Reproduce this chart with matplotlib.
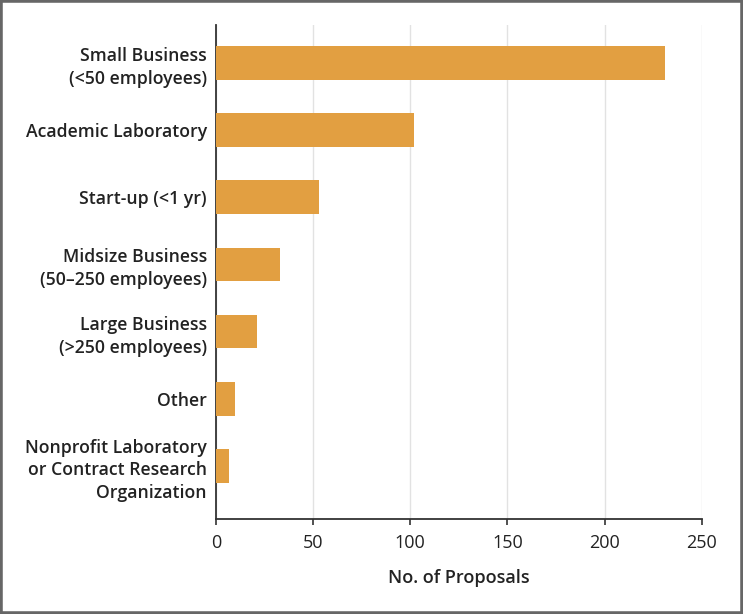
import matplotlib.pyplot as plt
import numpy as np
from matplotlib.patches import Rectangle

categories = [
    "Small Business\n(<50 employees)",
    "Academic Laboratory",
    "Start-up (<1 yr)",
    "Midsize Business\n(50\u2013250 employees)",
    "Large Business\n(>250 employees)",
    "Other",
    "Nonprofit Laboratory\nor Contract Research\nOrganization",
]
proposals = [231, 102, 53, 33, 21, 10, 6.5]
x_ticks = [0, 50, 100, 150, 200, 250]

plt.rcParams['font.family'] = ['Open Sans', 'DejaVu Sans']

fig = plt.figure(figsize=(7.43, 6.14), dpi=100)
ax = fig.add_axes([0.2907, 0.1547, 0.6537, 0.8046])

# outer frame
fig.patches.append(Rectangle((0, 0), 1, 1, transform=fig.transFigure,
                             fill=False, edgecolor="#666666", linewidth=4, zorder=10))

y = np.arange(len(categories))
ax.barh(y, proposals, height=0.5, color="#E29F41", zorder=3)

ax.set_xlim(0, 250)
ax.set_ylim(6.79, -0.565)
ax.set_xticks(x_ticks)
ax.set_yticks(y)
ax.set_yticklabels(categories, fontsize=12.7, fontweight="semibold",
                   color="#222222", linespacing=1.35)
ax.tick_params(axis="y", length=0, pad=6.5)
ax.tick_params(axis="x", length=4, width=1.2, color="#333333", pad=7,
               labelsize=13, labelcolor="#222222")

ax.grid(True, axis="x", color="#e2e2e2", linewidth=1, zorder=0)
for s in ["top", "right"]:
    ax.spines[s].set_visible(False)
for s in ["left", "bottom"]:
    ax.spines[s].set_color("#333333")
    ax.spines[s].set_linewidth(1.3)

ax.set_xlabel("No. of Proposals", fontsize=13, fontweight="semibold",
              color="#222222", labelpad=12)

fig.savefig("out.png", dpi=100)
